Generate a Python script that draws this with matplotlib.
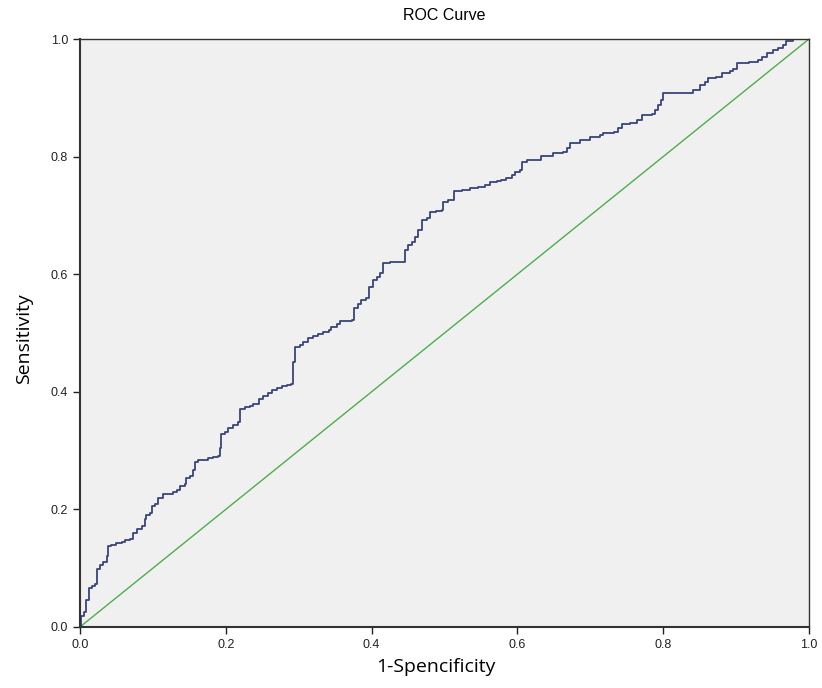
import matplotlib.pyplot as plt

plt.rcParams["font.family"] = ["Liberation Sans", "DejaVu Sans"]

# ROC curve points (1-specificity, sensitivity)
fpr = [0.000, 0.001, 0.005, 0.008, 0.012, 0.016, 0.020, 0.024, 0.027, 0.032,
       0.037, 0.039, 0.043, 0.050, 0.057, 0.062, 0.069, 0.073, 0.078, 0.085,
       0.089, 0.091, 0.096, 0.099, 0.103, 0.107, 0.114, 0.121, 0.128, 0.133,
       0.137, 0.144, 0.146, 0.151, 0.155, 0.158, 0.162, 0.169, 0.176, 0.183,
       0.190, 0.192, 0.194, 0.199, 0.203, 0.210, 0.217, 0.219, 0.226, 0.233,
       0.238, 0.245, 0.251, 0.258, 0.263, 0.270, 0.277, 0.284, 0.290, 0.292,
       0.295, 0.302, 0.306, 0.313, 0.320, 0.327, 0.334, 0.341, 0.345, 0.352,
       0.357, 0.373, 0.376, 0.382, 0.386, 0.393, 0.397, 0.402, 0.407, 0.412,
       0.416, 0.425, 0.443, 0.446, 0.450, 0.455, 0.460, 0.464, 0.469, 0.476,
       0.480, 0.489, 0.496, 0.498, 0.505, 0.513, 0.524, 0.535, 0.546, 0.556,
       0.562, 0.572, 0.578, 0.585, 0.592, 0.597, 0.604, 0.606, 0.613, 0.620,
       0.633, 0.649, 0.663, 0.668, 0.672, 0.686, 0.700, 0.713, 0.718, 0.732,
       0.738, 0.743, 0.754, 0.764, 0.771, 0.784, 0.789, 0.793, 0.797, 0.800,
       0.839, 0.841, 0.850, 0.857, 0.862, 0.873, 0.880, 0.892, 0.896, 0.901,
       0.917, 0.930, 0.936, 0.942, 0.951, 0.958, 0.965, 0.969, 0.978, 1.000]
tpr = [0.000, 0.018, 0.026, 0.046, 0.066, 0.069, 0.073, 0.098, 0.105, 0.111,
       0.120, 0.137, 0.139, 0.142, 0.145, 0.148, 0.149, 0.159, 0.166, 0.172,
       0.183, 0.190, 0.194, 0.205, 0.210, 0.219, 0.226, 0.227, 0.230, 0.233,
       0.239, 0.244, 0.253, 0.256, 0.267, 0.281, 0.284, 0.284, 0.287, 0.289,
       0.291, 0.304, 0.329, 0.332, 0.338, 0.344, 0.349, 0.370, 0.374, 0.376,
       0.380, 0.387, 0.392, 0.398, 0.403, 0.406, 0.409, 0.412, 0.413, 0.451,
       0.477, 0.480, 0.485, 0.491, 0.495, 0.499, 0.502, 0.505, 0.510, 0.516,
       0.521, 0.522, 0.542, 0.549, 0.556, 0.559, 0.579, 0.590, 0.596, 0.602,
       0.619, 0.620, 0.620, 0.641, 0.650, 0.655, 0.664, 0.675, 0.692, 0.695,
       0.706, 0.708, 0.709, 0.723, 0.727, 0.742, 0.744, 0.746, 0.749, 0.752,
       0.756, 0.759, 0.761, 0.763, 0.769, 0.773, 0.778, 0.791, 0.794, 0.795,
       0.801, 0.806, 0.808, 0.814, 0.823, 0.829, 0.834, 0.837, 0.840, 0.842,
       0.848, 0.855, 0.858, 0.863, 0.871, 0.872, 0.879, 0.888, 0.896, 0.908,
       0.908, 0.913, 0.922, 0.927, 0.934, 0.936, 0.942, 0.946, 0.949, 0.959,
       0.961, 0.964, 0.970, 0.976, 0.981, 0.985, 0.990, 0.997, 1.000, 1.000]
ref_line = [0.0, 1.0]
ticks = [0.0, 0.2, 0.4, 0.6, 0.8, 1.0]

fig = plt.figure(figsize=(8.22, 6.88), dpi=100)
ax = fig.add_axes([0.0973, 0.0887, 0.8869, 0.8546])
ax.set_facecolor('#f0f0f0')

ax.plot(ref_line, ref_line, color='#4cae4c', linewidth=1.0)
ax.step(fpr, tpr, where='post', color='#3a4578', linewidth=1.3)

ax.set_xlim(0, 1)
ax.set_ylim(0, 1)
ax.set_xticks(ticks)
ax.set_yticks(ticks)
ax.set_xticklabels(['%.1f' % t for t in ticks])
ax.set_yticklabels(['%.1f' % t for t in ticks])
ax.tick_params(direction='out', length=5, width=1, labelsize=9, colors='#222222')
for s in ax.spines.values():
    s.set_color('#333333')
    s.set_linewidth(1.0)
ax.spines['left'].set_linewidth(1.5)
ax.spines['bottom'].set_linewidth(1.5)

ax.set_title('ROC Curve', fontsize=11.5, pad=14)
ax.set_xlabel('1-Spencificity', fontsize=14, family=['Open Sans', 'DejaVu Sans'])
ax.set_ylabel('Sensitivity', fontsize=14, family=['Open Sans', 'DejaVu Sans'])
ax.xaxis.set_label_coords(0.488, -0.052)
ax.yaxis.set_label_coords(-0.064, 0.49)

plt.savefig('out.png', dpi=100)
